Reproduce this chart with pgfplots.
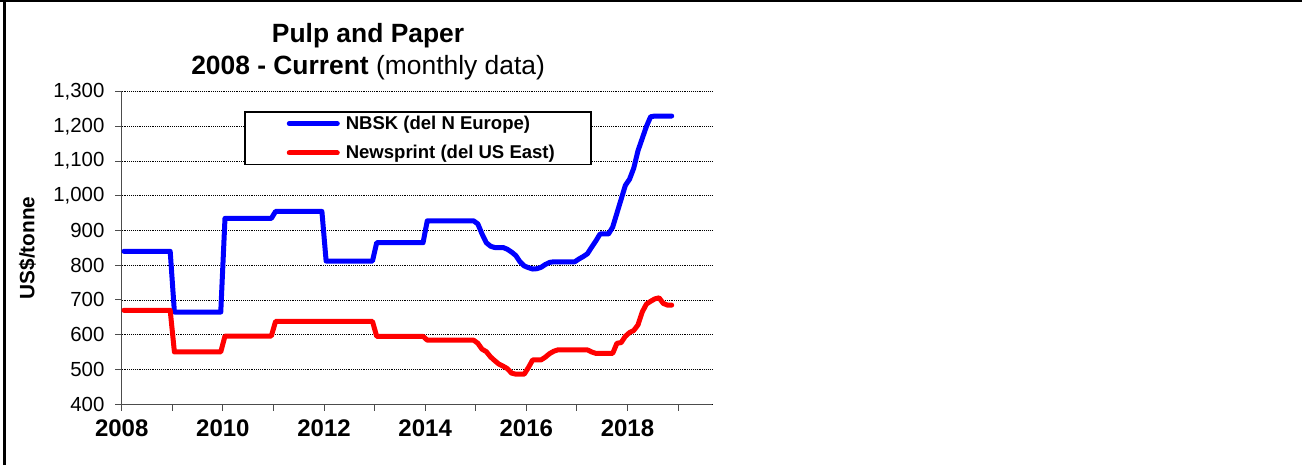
\documentclass[border=0pt]{standalone}
\usepackage{pgfplots}
\pgfplotsset{compat=1.18}
\usepackage{pgfplotstable}
\usepackage{fontspec}
\setmainfont{Liberation Sans}

% monthly data, Jan 2008 - Nov 2018
\pgfplotstableread{
nbsk news
840 670
840 670
840 670
840 670
840 670
840 670
840 670
840 670
840 670
840 670
840 670
840 670
665 550
665 550
665 550
665 550
665 550
665 550
665 550
665 550
665 550
665 550
665 550
665 550
935 596
935 596
935 596
935 596
935 596
935 596
935 596
935 596
935 596
935 596
935 596
935 596
955 638
955 638
955 638
955 638
955 638
955 638
955 638
955 638
955 638
955 638
955 638
955 638
812 638
812 638
812 638
812 638
812 638
812 638
812 638
812 638
812 638
812 638
812 638
812 638
865 595
865 595
865 595
865 595
865 595
865 595
865 595
865 595
865 595
865 595
865 595
865 595
928 584
928 584
928 584
928 584
928 584
928 584
928 584
928 584
928 584
928 584
928 584
928 584
919 575
890 558
865 551
855 536
851 525
851 515
851 509
846 502
838 489
828 486
810 486
798 486
793 505
789 527
790 527
794 527
802 535
808 545
810 552
810 556
810 556
810 556
810 556
810 556
818 556
825 556
833 556
852 550
870 546
890 546
890 546
890 546
910 546
950 575
990 577
1030 595
1048 606
1080 612
1130 628
1165 665
1200 688
1228 696
1230 703
1230 706
1230 690
1230 685
1230 685
}\datatable

\begin{document}
\begin{tikzpicture}[x=1pt,y=1pt]
\useasboundingbox (0,0) rectangle (976.5,348.75);
\draw[line width=1.7pt] (0,347.9) -- (976.5,347.9);
\draw[line width=2.5pt] (3.6,0) -- (3.6,348.75);
\begin{axis}[
  at={(91.3pt,45.75pt)}, anchor=south west,
  scale only axis, width=442.5pt, height=234.2pt,
  xmin=0, xmax=140, ymin=400, ymax=1300,
  axis x line*=bottom, axis y line*=left,
  x axis line style={-, draw=black!70, line width=0.75pt},
  y axis line style={-, draw=black!70, line width=0.75pt},
  tick align=outside, major tick length=5pt,
  tick style={draw=black!70, line width=0.75pt},
  xtick={0,12,...,132},
  xticklabels={2008,,2010,,2012,,2014,,2016,,2018,},
  ytick={400,500,...,1300},
  xtick pos=bottom, ytick pos=left,
  ymajorgrids,
  grid style={draw=black, line width=0.6pt, dash pattern=on 0.7pt off 0.7pt},
  /pgf/number format/.cd, 1000 sep={,}, assume math mode=true, /pgfplots/.cd,
  yticklabel style={font=\fontsize{15.3}{18}\selectfont, xshift=-4.5pt},
  xticklabel style={font=\bfseries\fontsize{18}{21}\selectfont, yshift=-3pt},
  ylabel={US\$/tonne},
  ylabel style={at={(axis description cs:-0.160,0.5)}, anchor=center, rotate=0, font=\bfseries\fontsize{15.6}{18}\selectfont},
  title={\textbf{Pulp and Paper}\\\textbf{2008 - Current} (monthly data)},
  title style={at={(axis description cs:0.4175,1)}, anchor=south, yshift=-0.5pt, align=center, font=\fontsize{19.8}{24}\selectfont},
  legend style={at={(rel axis cs:0.2073,0.938)}, anchor=north west, draw=black, line width=1.1pt,
    font=\bfseries\fontsize{13.9}{16}\selectfont, inner xsep=25pt, inner ysep=1pt, row sep=6.5pt,
    nodes={inner sep=2pt}},
  legend cell align=left,
  legend image code/.code={\path (-6.5pt,0pt); \path (38.5pt,0pt); \draw[#1] (0pt,0pt) -- (36pt,0pt);},
]
\addplot[blue, line width=3.75pt, line join=round, line cap=round] table[x expr=\coordindex+0.5, y=nbsk] {\datatable};
\addlegendentry{NBSK (del N Europe)}
\addplot[red, line width=3.75pt, line join=round, line cap=round] table[x expr=\coordindex+0.5, y=news] {\datatable};
\addlegendentry{Newsprint (del US East)}
\end{axis}
\end{tikzpicture}
\end{document}
